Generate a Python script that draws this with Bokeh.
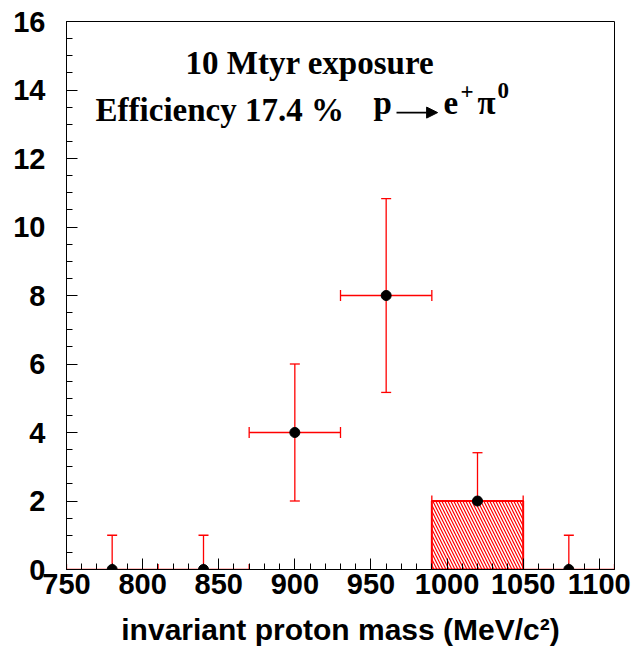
from bokeh.plotting import figure
from bokeh.models import (ColumnDataSource, Whisker, TeeHead, Label, Range1d,
                          SingleIntervalTicker, Arrow, NormalHead)
from bokeh.embed import file_html
from bokeh.resources import INLINE

# ---- data ----
bin_centers = [780, 840, 900, 960, 1020, 1080]
bin_half_width = [30, 30, 30, 30, 30, 30]
counts = [0, 0, 4, 8, 2, 0]
err_low = [0, 0, 2, 2.83, 1.41, 0]
err_high = [1, 1, 2, 2.83, 1.41, 1]

bkg_left = [990]
bkg_right = [1050]
bkg_height = [2]

x_ticks = [750, 800, 850, 900, 950, 1000, 1050, 1100]
y_ticks = [0, 2, 4, 6, 8, 10, 12, 14, 16]

RED = "#ff0000"

src = ColumnDataSource(dict(
    x=bin_centers,
    y=counts,
    lower=[c - l for c, l in zip(counts, err_low)],
    upper=[c + h for c, h in zip(counts, err_high)],
    xl=[c - w for c, w in zip(bin_centers, bin_half_width)],
    xr=[c + w for c, w in zip(bin_centers, bin_half_width)],
))

p = figure(width=635, height=652, output_backend="svg", toolbar_location=None,
           x_range=Range1d(750, 1110), y_range=Range1d(0, 16),
           min_border_left=66, min_border_right=21, min_border_top=21,
           min_border_bottom=83)
p.background_fill_color = "white"
p.border_fill_color = "white"
p.outline_line_color = "black"
p.outline_line_width = 1
p.xgrid.visible = False
p.ygrid.visible = False

# background histogram (hatched)
p.quad(left=bkg_left, right=bkg_right, bottom=[0] * len(bkg_left), top=bkg_height,
       fill_color="white", line_color=RED, line_width=2,
       hatch_pattern="left_diagonal_line", hatch_color=RED,
       hatch_scale=6, hatch_weight=1.2)

# error bars
vw = Whisker(base="x", lower="lower", upper="upper", source=src,
             line_color=RED, line_width=1.3,
             upper_head=TeeHead(size=10, line_color=RED, line_width=1.3),
             lower_head=TeeHead(size=10, line_color=RED, line_width=1.3))
hw = Whisker(base="y", lower="xl", upper="xr", dimension="width", source=src,
             line_color=RED, line_width=1.6,
             upper_head=TeeHead(size=11, line_color=RED, line_width=1.3),
             lower_head=TeeHead(size=11, line_color=RED, line_width=1.3))
p.add_layout(vw)
p.add_layout(hw)

p.scatter("x", "y", source=src, size=10, color="black", marker="circle")

# axes
for ax, ticks, interval, nminor in ((p.xaxis[0], x_ticks, 50, 5), (p.yaxis[0], y_ticks, 2, 4)):
    ax.ticker = SingleIntervalTicker(interval=interval, num_minor_ticks=nminor)
    ax.major_tick_in = 11
    ax.major_tick_out = 0
    ax.minor_tick_in = 6
    ax.minor_tick_out = 0
    ax.major_tick_line_color = "black"
    ax.minor_tick_line_color = "black"
    ax.axis_line_color = "black"
    ax.major_label_text_font = "Liberation Sans"
    ax.major_label_text_font_style = "bold"
    ax.major_label_text_font_size = "29px"
    ax.major_label_text_color = "black"

p.yaxis.major_label_standoff = 21
p.xaxis.major_label_standoff = 4
p.xaxis.axis_label = "invariant proton mass (MeV/c²)"
p.xaxis.axis_label_text_font = "Liberation Sans"
p.xaxis.axis_label_text_font_style = "bold"
p.xaxis.axis_label_text_font_size = "30px"
p.xaxis.axis_label_text_color = "black"
p.xaxis.axis_label_standoff = 16

# annotations
SERIF = "Liberation Serif"
def lab(x, y, text, size):
    p.add_layout(Label(x=x, y=y, text=text, text_font=SERIF, text_font_style="bold",
                       text_font_size=size, text_color="black",
                       text_baseline="alphabetic", text_align="left"))

lab(828.2, 14.80, "10 Mtyr exposure", "33px")
lab(769.1, 13.43, "Efficiency 17.4 %", "33px")
lab(951.7, 13.61, "p", "33px")
lab(997.7, 13.61, "e", "33px")
lab(1008.9, 13.96, "+", "23px")
lab(1020.0, 13.61, "π", "33px")
lab(1033.2, 13.99, "0", "23px")
p.add_layout(Arrow(x_start=966.8, y_start=13.34, x_end=993.8, y_end=13.34,
                   line_color="black", line_width=1.8,
                   end=NormalHead(size=11, fill_color="black", line_color="black")))

open("out.html", "w").write(file_html(p, INLINE))
